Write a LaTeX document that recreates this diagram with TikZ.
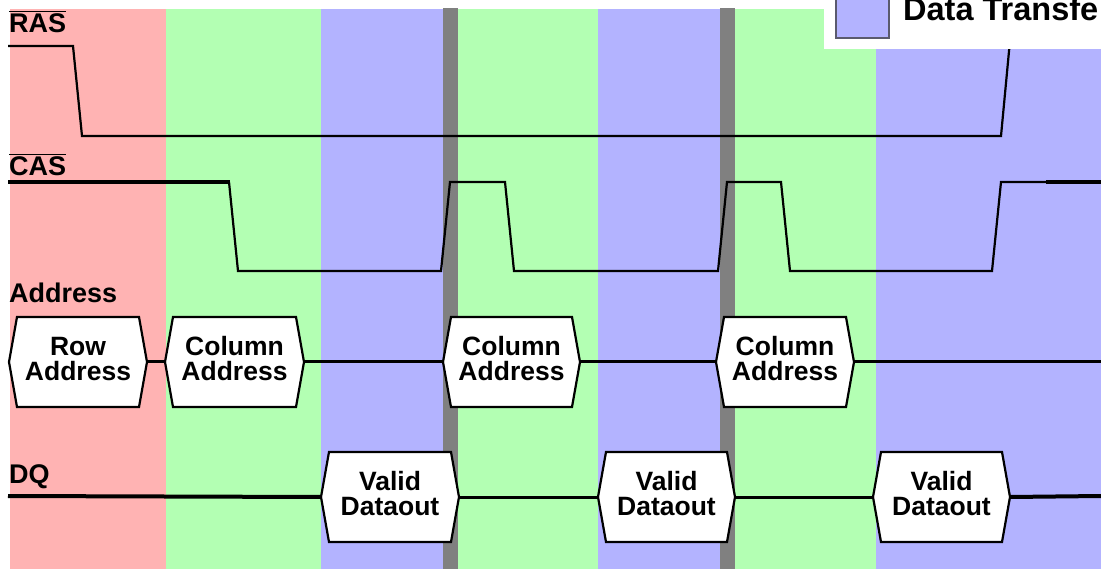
\documentclass[tikz,border=0pt]{standalone}
\usepackage{fontspec}
\setmainfont{Liberation Sans}
\usetikzlibrary{calc}
\definecolor{cpink}{RGB}{255,179,179}
\definecolor{cgreen}{RGB}{179,255,179}
\definecolor{cblue}{RGB}{179,179,255}
\definecolor{cgray}{RGB}{128,128,128}
\definecolor{cframe}{RGB}{90,90,110}
\newcommand\hexnode[5]{%
  \coordinate (#1-w) at (#2,#4);
  \coordinate (#1-e) at (#3,#4);
  \draw[hexb] (#2,#4) -- ({#2+8},{#4-45}) -- ({#3-8},{#4-45}) -- (#3,#4)
     -- ({#3-8},{#4+45}) -- ({#2+8},{#4+45}) -- cycle;
  \node[hextxt] (#1) at ({(#2+#3)/2},{#4-3}) {#5};}
\begin{document}
\begin{tikzpicture}[x=1pt,y=-1pt,
  sig/.style={line width=2.2pt, line join=miter},
  bus/.style={line width=3pt},
  thick4/.style={line width=4pt},
  hexb/.style={draw=black, fill=white, line width=2.2pt, line join=miter},
  lbl/.style={font=\fontsize{27}{25}\selectfont\bfseries, inner sep=0pt, anchor=base west},
  hextxt/.style={font=\fontsize{26.5}{25}\selectfont\bfseries, align=center, inner sep=0pt}
]
\useasboundingbox (0,0) rectangle (1101,569);
% phase bands
\fill[cpink]  (10,9) rectangle (166,569);
\fill[cgreen] (166,9) rectangle (321,569);
\fill[cblue]  (321,9) rectangle (443,569);
\fill[cgray]  (443,8) rectangle (458,569);
\fill[cgreen] (458,9) rectangle (598,569);
\fill[cblue]  (598,9) rectangle (720,569);
\fill[cgray]  (720,8) rectangle (735,569);
\fill[cgreen] (735,9) rectangle (876,569);
\fill[cblue]  (876,9) rectangle (1101,569);

% RAS waveform
\coordinate (rasA) at (8,46);
\coordinate (rasB) at (1011,30);
\draw[sig] (rasA) -- (73,46) -- (82,136) -- (1001,136) -- (rasB);

% CAS waveform
\coordinate (casA) at (8,182);
\coordinate (casB) at (1101,182);
\draw[thick4] (casA) -- (230,182);
\draw[sig] (229,182) -- (238,271) -- (441,271) -- (450,182) -- (505,182) -- (514,271)
  -- (718,271) -- (727,182) -- (781,182) -- (790,271) -- (992,271) -- (1001,182) -- (1047,182);
\draw[thick4] (1046,182) -- (casB);

% Address bus
\hexnode{row}{9}{147}{362}{Row\\Address}
\hexnode{colA}{165}{304}{362}{Column\\Address}
\hexnode{colB}{443}{580}{362}{Column\\Address}
\hexnode{colC}{716}{854}{362}{Column\\Address}
\coordinate (addrEnd) at (1101,362);
\draw[bus] (row-e) -- (colA-w);
\draw[bus] (colA-e) -- (colB-w);
\draw[bus] (colB-e) -- (colC-w);
\draw[bus] (colC-e) -- (addrEnd);

% DQ bus
\hexnode{dqA}{321}{459}{497}{Valid\\Dataout}
\hexnode{dqB}{598}{735}{497}{Valid\\Dataout}
\hexnode{dqC}{873}{1010}{497}{Valid\\Dataout}
\coordinate (dqStart) at (8,496);
\coordinate (dqEnd) at (1101,496);
\draw[thick4] (dqStart) -- (dqA-w);
\draw[bus] (dqA-e) -- (dqB-w);
\draw[bus] (dqB-e) -- (dqC-w);
\draw[thick4] (dqC-e) -- (dqEnd);

% signal labels
\node[lbl] (ras) at (9,33) {RAS};
\draw[line width=1pt] (ras.north west) ++(0,-2) coordinate (rasO1) -- ($(ras.north east)+(0,-2)$) coordinate (rasO2);
\node[lbl] (cas) at (9,176) {CAS};
\draw[line width=1pt] (cas.north west) ++(0,-2) coordinate (casO1) -- ($(cas.north east)+(0,-2)$) coordinate (casO2);
\node[lbl] (addr) at (9,303) {Address};
\node[lbl] (dq) at (9,483) {DQ};

% legend (partially visible)
\fill[white] (824,0) rectangle (1101,49);
\node[draw=cframe, fill=cblue, line width=1.2pt, minimum width=53pt, minimum height=44pt, inner sep=0pt] (legsq) at (862.5,16) {};
\node[font=\fontsize{32.5}{34}\selectfont\bfseries, inner sep=0pt, anchor=base west] (legtxt) at (903,21) {Data Transfe};
\end{tikzpicture}
\end{document}
